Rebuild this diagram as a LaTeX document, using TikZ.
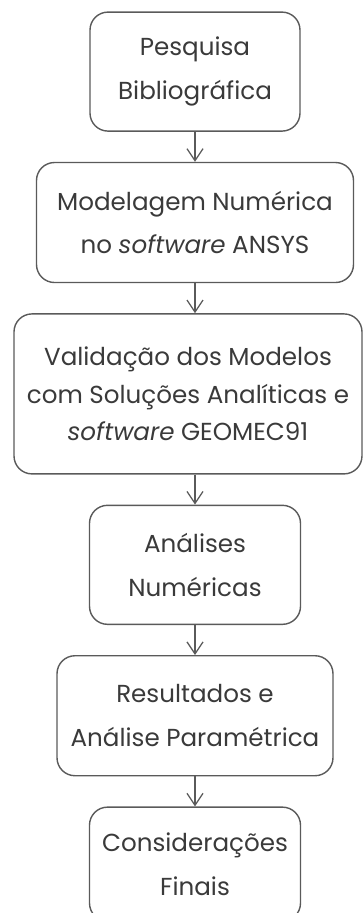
\documentclass[tikz,border=0pt]{standalone}
\usepackage{fontspec}
\setmainfont{Poppins}
\usepackage{xcolor}
\usepackage{tikz}
\usetikzlibrary{arrows.meta, positioning}

\definecolor{linhacinza}{HTML}{5A5A5A}
\definecolor{textocinza}{HTML}{3A3A3A}

\begin{document}
\begin{tikzpicture}[node distance=0.75cm, >={Straight Barb[length=0.3cm,width=0.4cm]},
    etapa/.style={draw=linhacinza, line width=1pt, rounded corners=0.45cm, align=center,
        text=textocinza, inner sep=0pt, font={\fontsize{17.5}{31}\selectfont}},
    seta/.style={->, draw=linhacinza, line width=0.9pt}]
    \useasboundingbox (0,0) rectangle (9.075,-22.825);

    % Etapas
    \node [etapa, minimum width=5.25cm, minimum height=2.975cm] (pesq) at (4.875,-1.79)
        {Pesquisa\\Bibliográfica};
    \node [etapa, minimum width=7.925cm, minimum height=3cm, below=of pesq] (model)
        {Modelagem Numérica\\no \textit{software} ANSYS};
    \node [etapa, minimum width=8.7cm, minimum height=4cm, below=of model, xshift=-0.175cm,
        font={\fontsize{17.5}{26.5}\selectfont}] (valid)
        {Validação dos Modelos\\com Soluções Analíticas e\\\textit{software} GEOMEC91};
    \node [etapa, minimum width=5.275cm, minimum height=2.975cm, below=of valid.south -| pesq.south] (anal)
        {Análises\\Numéricas};
    \node [etapa, minimum width=6.9cm, minimum height=3cm, below=of anal] (result)
        {Resultados e\\Análise Paramétrica};
    \node [etapa, minimum width=5.275cm, minimum height=2.85cm, below=of result] (consid)
        {Considerações\\Finais};

    % Setas
    \draw [seta] (pesq) -- (model);
    \draw [seta] (model) -- (model |- valid.north);
    \draw [seta] (anal |- valid.south) -- (anal);
    \draw [seta] (anal) -- (result);
    \draw [seta] (result) -- (consid);

\end{tikzpicture}
\end{document}
